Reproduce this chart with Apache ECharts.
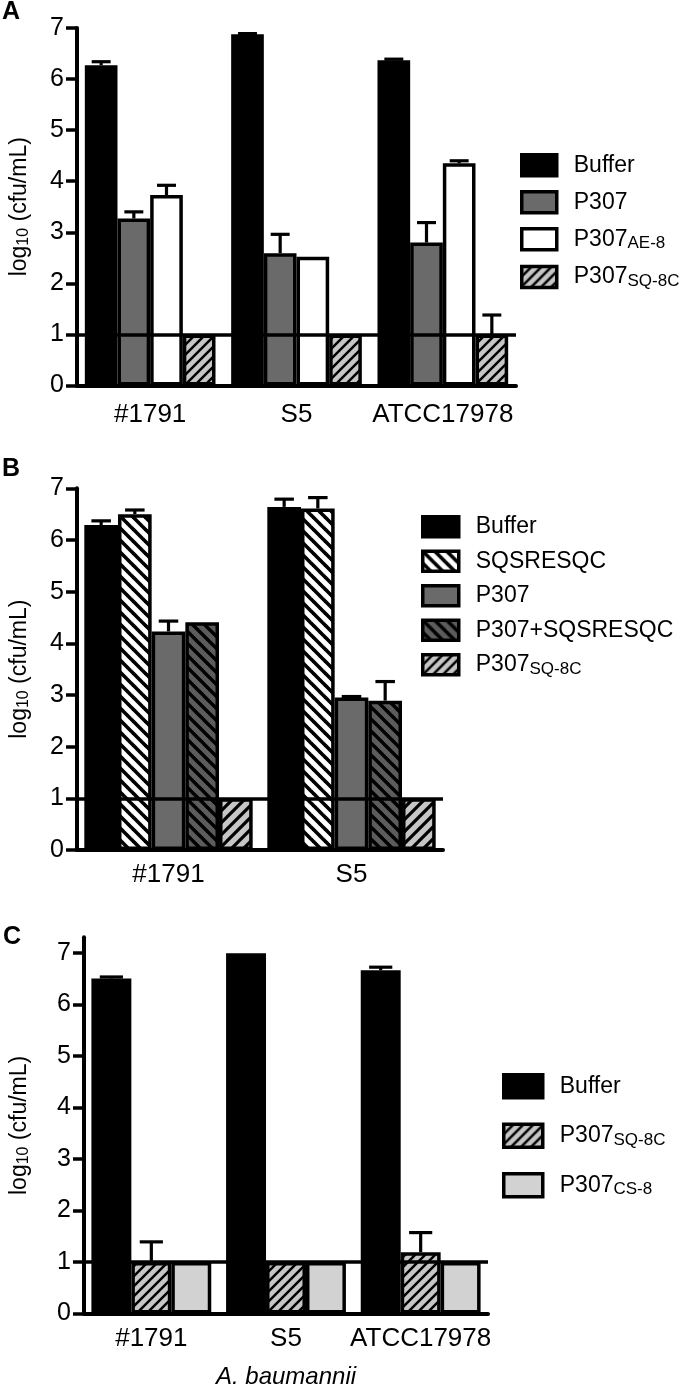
<!DOCTYPE html>
<html><head><meta charset="utf-8">
<script src="https://cdn.jsdelivr.net/npm/echarts@6/dist/echarts.min.js"></script>
<style>html,body{margin:0;padding:0;background:#fff}#c{width:680px;height:1393px}</style>
</head><body><div id="c"></div>
<script>
// ---------- DATA ----------
const catsA = ['#1791', 'S5', 'ATCC17978'];
const A_buffer = [6.27, 6.88, 6.37];
const A_buffer_err = [6.34, 6.89, 6.39];
const A_p307 = [3.27, 2.59, 2.80];
const A_p307_err = [3.40, 2.96, 3.19];
const A_ae8 = [3.73, 2.52, 4.35];
const A_ae8_err = [3.92, 2.52, 4.40];
const A_sq8c = [1, 1, 1];
const A_sq8c_err = [1, 1, 1.38];

const catsB = ['#1791', 'S5'];
const B_buffer = [6.29, 6.64];
const B_buffer_err = [6.37, 6.79];
const B_sqs = [6.50, 6.61];
const B_sqs_err = [6.58, 6.82];
const B_p307 = [4.23, 2.95];
const B_p307_err = [4.43, 2.97];
const B_combo = [4.41, 2.89];
const B_combo_err = [4.41, 3.26];
const B_sq8c = [1, 1];
const B_sq8c_err = [1, 1];

const catsC = ['#1791', 'S5', 'ATCC17978'];
const C_buffer = [6.50, 6.99, 6.66];
const C_buffer_err = [6.53, 6.99, 6.72];
const C_sq8c = [1, 1, 1.19];
const C_sq8c_err = [1.39, 1, 1.57];
const C_cs8 = [1, 1, 1];
const C_cs8_err = [1, 1, 1];

const yTicks = [0, 1, 2, 3, 4, 5, 6, 7];
const detectionLimit = 1;

// ---------- STYLE ----------
const FONT = "'Liberation Sans', Arial, Helvetica, sans-serif";
function hatch(bg, dir, p, lw) {
  const c = document.createElement('canvas');
  c.width = p; c.height = p;
  const ctx = c.getContext('2d');
  ctx.fillStyle = bg; ctx.fillRect(0, 0, p, p);
  ctx.strokeStyle = '#000'; ctx.lineWidth = lw; ctx.lineCap = 'square';
  for (let k = -1; k <= 1; k++) {
    ctx.beginPath();
    if (dir === '/') { ctx.moveTo(k * p, p); ctx.lineTo(k * p + p, 0); }
    else { ctx.moveTo(k * p, 0); ctx.lineTo(k * p + p, p); }
    ctx.stroke();
  }
  return { image: c, repeat: 'repeat' };
}
const patSQ8C = hatch('#c6c6c6', '/', 10, 2.5);
const patSQ8CB = hatch('#c6c6c6', '/', 12, 3.2);
const patSQS = hatch('#ffffff', '\\', 12, 3.6);
const patCombo = hatch('#5c5c5c', '\\', 12, 3.4);

const BORDER = { borderColor: '#000', borderWidth: 3.5 };

function barSeries(name, data, color, axis, extra) {
  return Object.assign({
    type: 'bar', name, data, xAxisIndex: axis, yAxisIndex: axis,
    barGap: '0%', itemStyle: Object.assign({ color }, BORDER),
    emphasis: { disabled: true }, silent: true, z: 2
  }, extra || {});
}
function limitLine() {
  return {
    silent: true, symbol: ['none', 'none'], z: 5,
    label: { show: false },
    lineStyle: { color: '#000', width: 3.5, type: 'solid' },
    emphasis: { disabled: true },
    data: [{ yAxis: detectionLimit }]
  };
}
function errSeries(axis, idx, nBars, gapRatio, vals, errs) {
  const data = vals.map((v, i) => [i, v, errs[i]]);
  return {
    type: 'custom', xAxisIndex: axis, yAxisIndex: axis, z: 10, silent: true,
    encode: { x: 0, y: [1, 2] },
    data,
    renderItem(params, api) {
      const v = api.value(1), e = api.value(2);
      if (!(e > v + 0.005)) return null;
      const band = api.size([1, 0])[0];
      const bw = band * (1 - gapRatio) / nBars;
      const cx = api.coord([api.value(0), v])[0] - bw * nBars / 2 + (idx + 0.5) * bw;
      const y0 = api.coord([api.value(0), v])[1];
      const y1 = api.coord([api.value(0), e])[1];
      const cap = bw * 0.29;
      const st = { stroke: '#000', lineWidth: 3.2, fill: null };
      return {
        type: 'group', children: [
          { type: 'line', shape: { x1: cx, y1: y0, x2: cx, y2: y1 }, style: st },
          { type: 'line', shape: { x1: cx - cap, y1: y1, x2: cx + cap, y2: y1 }, style: st }
        ]
      };
    }
  };
}

const gapA = 0.107, gapB = 0.08, gapC = 0.11;

function xAxisCfg(idx, cats, margin, extra) {
  return Object.assign({
    type: 'category', gridIndex: idx, data: cats,
    axisLine: { lineStyle: { color: '#000', width: 4 } },
    axisTick: { alignWithLabel: true, length: 11, lineStyle: { color: '#000', width: 3.5 } },
    axisLabel: { color: '#000', fontSize: 26, fontFamily: FONT, margin, interval: 0 },
    splitLine: { show: false }
  }, extra || {});
}
const yNameRich = {
  m: { fontSize: 23, lineHeight: 25, fontFamily: FONT, color: '#000' },
  s: { fontSize: 16, lineHeight: 12, verticalAlign: 'bottom', fontFamily: FONT, color: '#000' }
};
function yAxisCfg(idx, max, gap) {
  return {
    type: 'value', gridIndex: idx, min: 0, max, interval: 1,
    name: '{m|log}{s|10}{m| (cfu/mL)}', nameLocation: 'middle', nameGap: gap,
    nameRotate: 90, nameTextStyle: { rich: yNameRich },
    axisLine: { show: true, lineStyle: { color: '#000', width: 4 } },
    axisTick: { show: true, length: 11, lineStyle: { color: '#000', width: 3.5 }, customValues: yTicks },
    axisLabel: { color: '#000', fontSize: 25, fontFamily: FONT, margin: 13, customValues: yTicks },
    splitLine: { show: false }
  };
}
const legendNames = {
  'Buffer': '{m|Buffer}',
  'P307': '{m|P307}',
  'P307_AE-8': '{m|P307}{s|AE-8}',
  'P307_SQ-8C': '{m|P307}{s|SQ-8C}',
  'P307_CS-8': '{m|P307}{s|CS-8}',
  'SQSRESQC': '{m|SQSRESQC}',
  'P307+SQSRESQC': '{m|P307+SQSRESQC}'
};
function legendCfg(data, left, top, w, h, gap, subShift) {
  return {
    data, left, top, orient: 'vertical', itemWidth: w, itemHeight: h, itemGap: gap,
    icon: 'rect', selectedMode: false,
    itemStyle: { borderWidth: 3.5, borderColor: '#000' },
    formatter: n => legendNames[n],
    textStyle: {
      padding: [0, 0, 0, 12],
      rich: {
        m: { fontSize: 23, lineHeight: 26, fontFamily: FONT, color: '#000' },
        s: { fontSize: 17, lineHeight: 26 - 2 * subShift, verticalAlign: 'bottom', fontFamily: FONT, color: '#000' }
      }
    }
  };
}

const option = {
  animation: false,
  backgroundColor: '#fff',
  title: [
    { text: 'A', left: 2, top: 0, padding: 0, textStyle: { fontSize: 25, fontWeight: 'bold', fontFamily: FONT, color: '#000' } },
    { text: 'B', left: 2, top: 457, padding: 0, textStyle: { fontSize: 25, fontWeight: 'bold', fontFamily: FONT, color: '#000' } },
    { text: 'C', left: 3, top: 925, padding: 0, textStyle: { fontSize: 25, fontWeight: 'bold', fontFamily: FONT, color: '#000' } }
  ],
  grid: [
    { left: 70, top: 28, width: 446, height: 357.5 },
    { left: 70, top: 488.3, width: 373, height: 361.7 },
    { left: 78, top: 937.3, width: 410, height: 376.2 }
  ],
  xAxis: [
    xAxisCfg(0, catsA, 16),
    xAxisCfg(1, catsB, 12),
    xAxisCfg(2, catsC, 12, {
      name: 'A. baumannii', nameLocation: 'middle', nameGap: 52,
      nameTextStyle: { fontSize: 24, fontStyle: 'italic', fontFamily: FONT, color: '#000' }
    })
  ],
  yAxis: [yAxisCfg(0, 7, 45), yAxisCfg(1, 7, 45), yAxisCfg(2, 7.3, 52)],
  legend: [
    legendCfg(['Buffer', 'P307', 'P307_AE-8', 'P307_SQ-8C'], 515, 148, 35, 21, 12.5, 5),
    legendCfg(['Buffer', 'SQSRESQC', 'P307', 'P307+SQSRESQC', 'P307_SQ-8C'], 416, 510, 36, 20, 11, 5),
    legendCfg(['Buffer', 'P307_SQ-8C', 'P307_CS-8'], 497, 1068, 39, 23, 23, 3.5)
  ],
  series: [
    barSeries('Buffer', A_buffer, '#000', 0, { barCategoryGap: (gapA * 100) + '%', markLine: limitLine() }),
    barSeries('P307', A_p307, '#6a6a6a', 0),
    barSeries('P307_AE-8', A_ae8, '#ffffff', 0),
    barSeries('P307_SQ-8C', A_sq8c, patSQ8C, 0, { barCategoryGap: (gapA * 100) + '%' }),
    errSeries(0, 0, 4, gapA, A_buffer, A_buffer_err),
    errSeries(0, 1, 4, gapA, A_p307, A_p307_err),
    errSeries(0, 2, 4, gapA, A_ae8, A_ae8_err),
    errSeries(0, 3, 4, gapA, A_sq8c, A_sq8c_err),

    barSeries('Buffer', B_buffer, '#000', 1, { barCategoryGap: (gapB * 100) + '%', markLine: limitLine() }),
    barSeries('SQSRESQC', B_sqs, patSQS, 1),
    barSeries('P307', B_p307, '#6a6a6a', 1),
    barSeries('P307+SQSRESQC', B_combo, patCombo, 1),
    barSeries('P307_SQ-8C', B_sq8c, patSQ8CB, 1, { barCategoryGap: (gapB * 100) + '%' }),
    errSeries(1, 0, 5, gapB, B_buffer, B_buffer_err),
    errSeries(1, 1, 5, gapB, B_sqs, B_sqs_err),
    errSeries(1, 2, 5, gapB, B_p307, B_p307_err),
    errSeries(1, 3, 5, gapB, B_combo, B_combo_err),
    errSeries(1, 4, 5, gapB, B_sq8c, B_sq8c_err),

    barSeries('Buffer', C_buffer, '#000', 2, { barCategoryGap: (gapC * 100) + '%', markLine: limitLine() }),
    barSeries('P307_SQ-8C', C_sq8c, patSQ8C, 2),
    barSeries('P307_CS-8', C_cs8, '#d2d2d2', 2, { barCategoryGap: (gapC * 100) + '%' }),
    errSeries(2, 0, 3, gapC, C_buffer, C_buffer_err),
    errSeries(2, 1, 3, gapC, C_sq8c, C_sq8c_err),
    errSeries(2, 2, 3, gapC, C_cs8, C_cs8_err)
  ]
};
const chart = echarts.init(document.getElementById('c'), null, { renderer: 'canvas' });
chart.setOption(option);
</script></body></html>
